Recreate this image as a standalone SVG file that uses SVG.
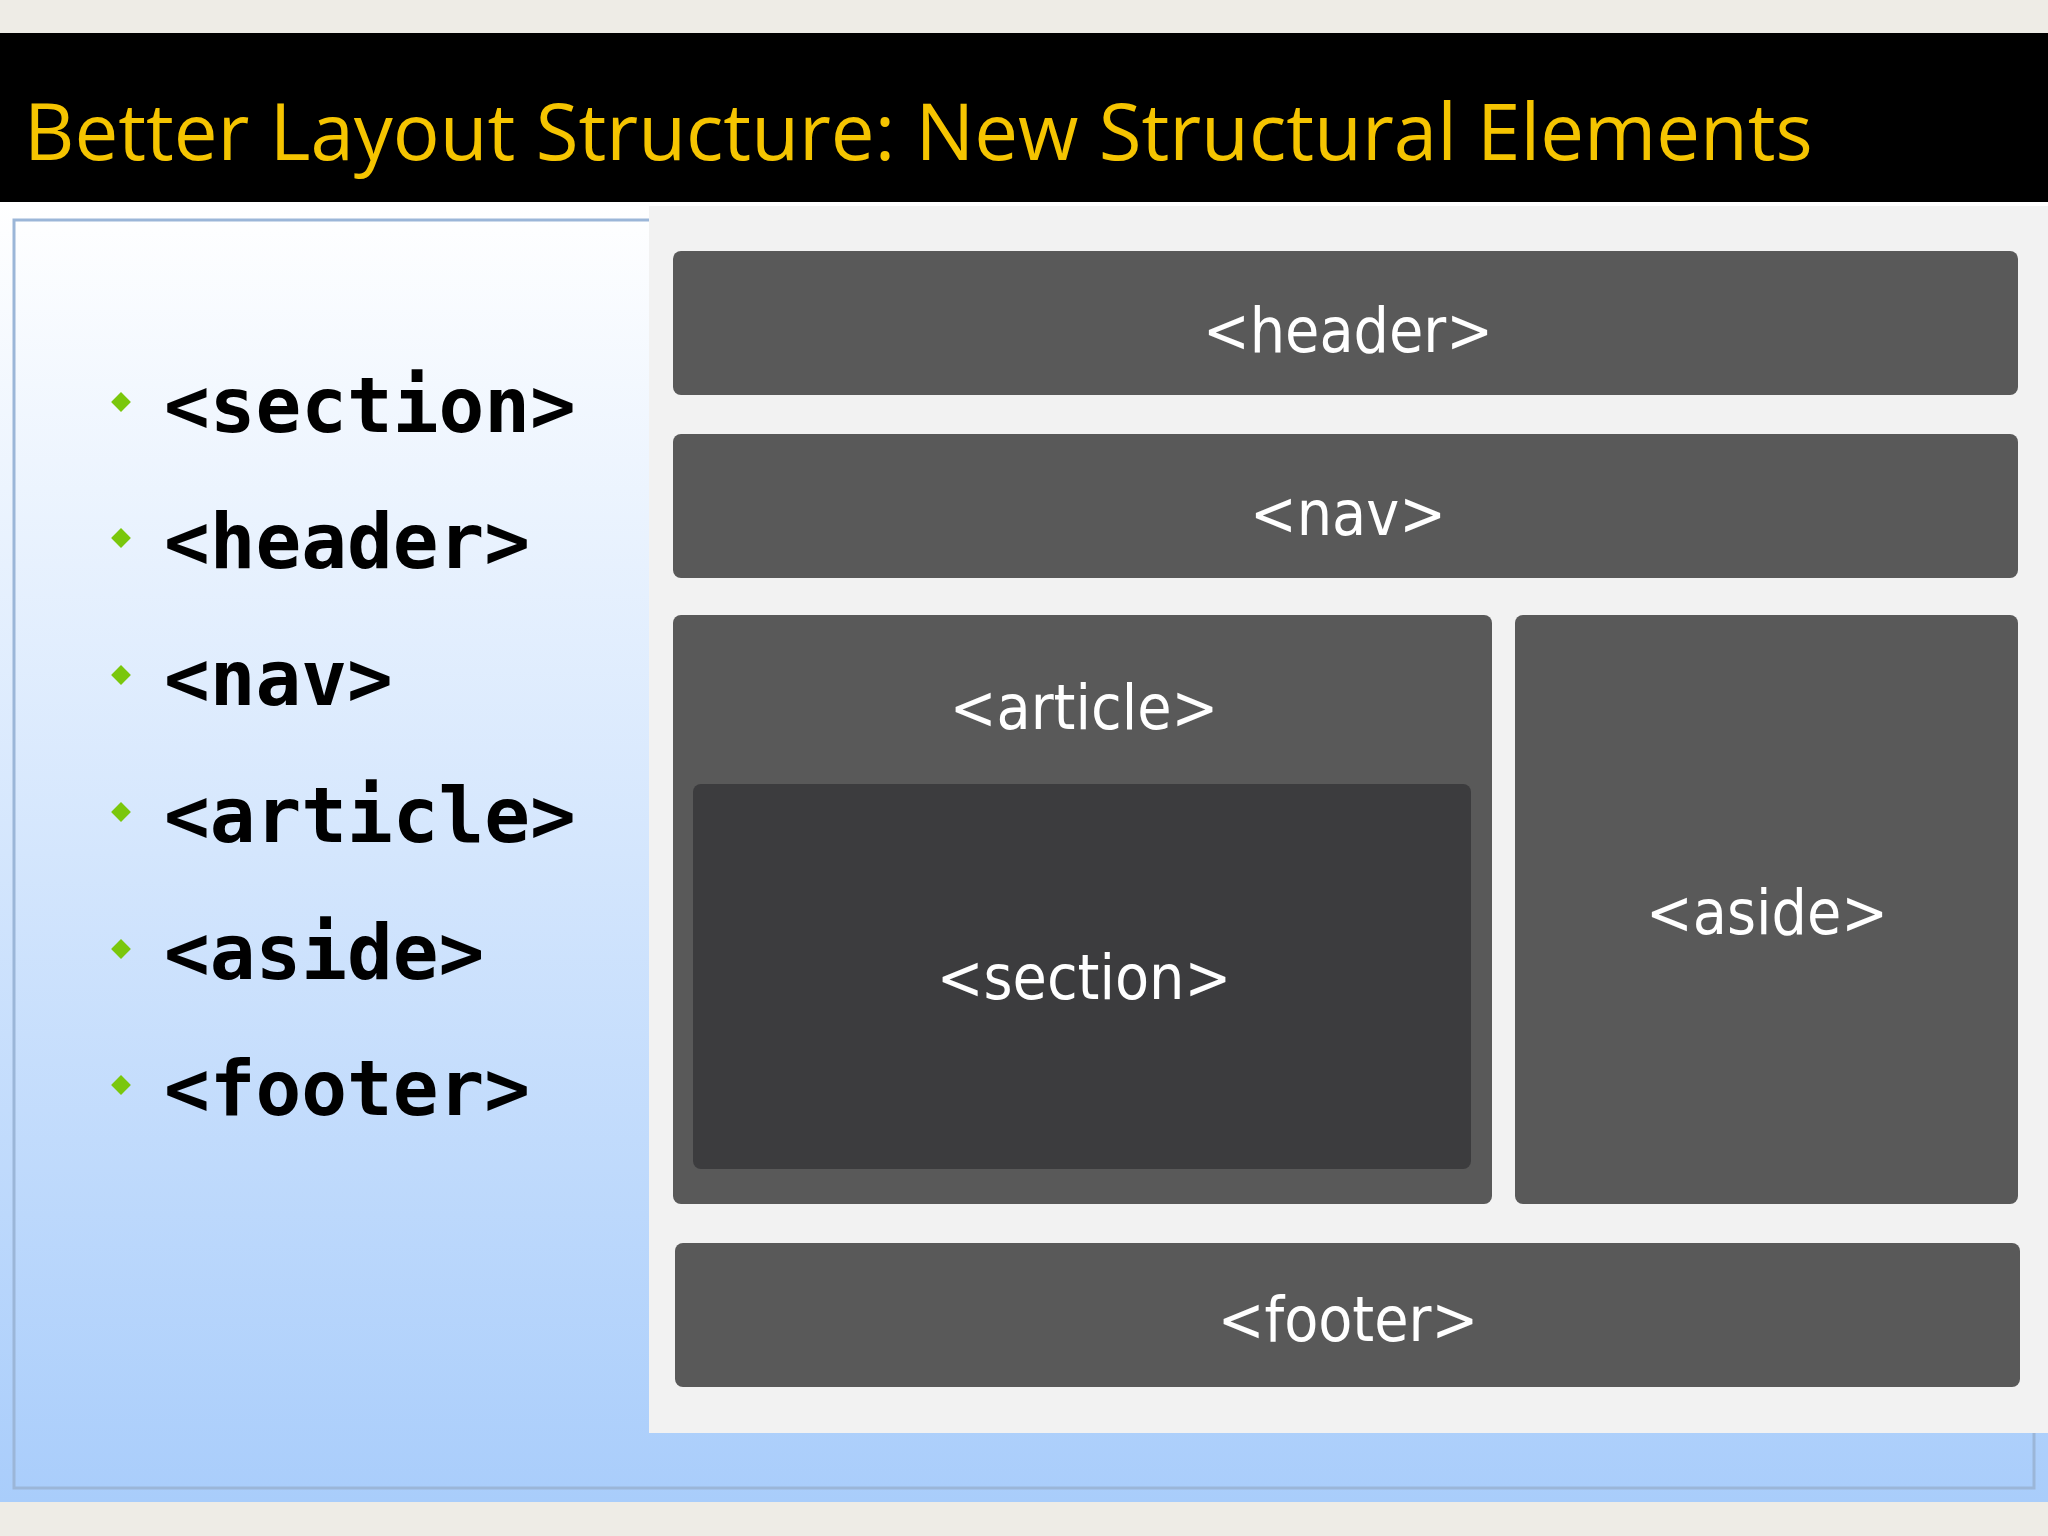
<svg xmlns="http://www.w3.org/2000/svg" width="2048" height="1536" viewBox="0 0 2048 1536">
<defs>
<linearGradient id="bg" x1="0" y1="0" x2="0" y2="1">
<stop offset="0" stop-color="#ffffff"/>
<stop offset="1" stop-color="#a9cdfb"/>
</linearGradient>
<style>
.box{fill:#595959}
.lbl{fill:#ffffff;font-family:"DejaVu Sans Condensed","DejaVu Sans",sans-serif;font-size:62px;text-anchor:middle;dominant-baseline:central}
.bul{fill:#000;font-family:"DejaVu Sans Mono","Liberation Mono",monospace;font-weight:bold;font-size:76px}
.dot{fill:#7ac70c}
</style>
</defs>
<rect x="0" y="0" width="2048" height="1536" fill="#eeece6"/>
<rect x="0" y="33" width="2048" height="169" fill="#000"/>
<text x="24" y="160" font-family="'Open Sans','Noto Sans',sans-serif" font-size="78" fill="#f5c400">Better Layout Structure: New Structural Elements</text>
<rect x="0" y="202" width="2048" height="1300" fill="url(#bg)"/>
<rect x="14" y="220" width="2020" height="1268" fill="none" stroke="#9bb6d8" stroke-width="3"/>
<rect x="649" y="206" width="1399" height="1227" fill="#f2f2f2"/>
<g id="list">
<g transform="translate(121,402) rotate(45)"><rect class="dot" x="-7" y="-7" width="14" height="14"/></g>
<g transform="translate(121,538) rotate(45)"><rect class="dot" x="-7" y="-7" width="14" height="14"/></g>
<g transform="translate(121,675) rotate(45)"><rect class="dot" x="-7" y="-7" width="14" height="14"/></g>
<g transform="translate(121,812) rotate(45)"><rect class="dot" x="-7" y="-7" width="14" height="14"/></g>
<g transform="translate(121,949) rotate(45)"><rect class="dot" x="-7" y="-7" width="14" height="14"/></g>
<g transform="translate(121,1085) rotate(45)"><rect class="dot" x="-7" y="-7" width="14" height="14"/></g>
<text class="bul" x="164" y="432">&lt;section&gt;</text>
<text class="bul" x="164" y="568">&lt;header&gt;</text>
<text class="bul" x="164" y="705">&lt;nav&gt;</text>
<text class="bul" x="164" y="842">&lt;article&gt;</text>
<text class="bul" x="164" y="979">&lt;aside&gt;</text>
<text class="bul" x="164" y="1115">&lt;footer&gt;</text>
</g>
<g id="header"><rect class="box" x="673" y="251" width="1345" height="144" rx="8"/><text class="lbl" x="1348" y="330">&lt;header&gt;</text></g>
<g id="nav"><rect class="box" x="673" y="434" width="1345" height="144" rx="8"/><text class="lbl" x="1348" y="513">&lt;nav&gt;</text></g>
<g id="article"><rect class="box" x="673" y="615" width="819" height="589" rx="8"/><text class="lbl" x="1084" y="707">&lt;article&gt;</text></g>
<g id="section"><rect x="693" y="784" width="778" height="385" rx="8" fill="#3c3c3e"/><text class="lbl" x="1084" y="977">&lt;section&gt;</text></g>
<g id="aside"><rect class="box" x="1515" y="615" width="503" height="589" rx="8"/><text class="lbl" x="1767" y="912">&lt;aside&gt;</text></g>
<g id="footer"><rect class="box" x="675" y="1243" width="1345" height="144" rx="8"/><text class="lbl" x="1348" y="1319">&lt;footer&gt;</text></g>
<g id="connectors"/>
</svg>
